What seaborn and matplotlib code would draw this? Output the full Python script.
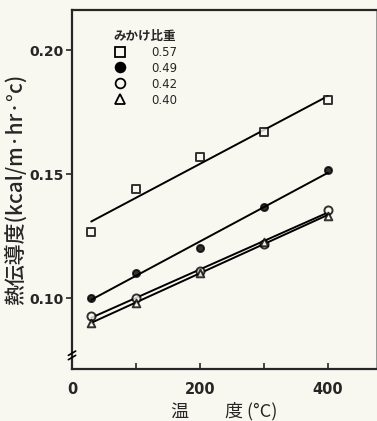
import matplotlib
matplotlib.use('Agg')
import matplotlib.pyplot as plt
from matplotlib.lines import Line2D
import seaborn as sns
import numpy as np
import pandas as pd

# data
temps = [30, 100, 200, 300, 400]
k_057 = [0.1266, 0.1440, 0.1570, 0.1670, 0.1800]
k_049 = [0.1000, 0.1100, 0.1200, 0.1367, 0.1516]
k_042 = [0.0927, 0.1000, 0.1110, 0.1220, 0.1355]
k_040 = [0.0900, 0.0980, 0.1100, 0.1226, 0.1330]
densities = ['0.57', '0.49', '0.42', '0.40']

paper = '#f9f8f0'

sns.set_style('ticks')
plt.rcParams['font.family'] = ['DejaVu Sans', 'Noto Sans CJK JP']
plt.rcParams['figure.facecolor'] = paper
plt.rcParams['axes.facecolor'] = paper

fig = plt.figure(figsize=(3.77, 4.21), dpi=100)
ax = fig.add_axes([0.191, 0.1235, 0.806, 0.8525])

series = [k_057, k_049, k_042, k_040]
styles = [('s', paper, 40), ('o', 'black', 26), ('o', paper, 34), ('^', paper, 30)]

for vals, (mk, fc, sz) in zip(series, styles):
    df = pd.DataFrame({'T': temps, 'k': vals})
    sns.regplot(data=df, x='T', y='k', ax=ax, ci=None, marker=mk, color='black',
                scatter_kws={'facecolor': fc, 'edgecolor': 'black', 's': sz,
                             'linewidths': 1.4, 'zorder': 3},
                line_kws={'linewidth': 1.4, 'zorder': 2})

ax.set_xlim(0, 475)
ax.set_ylim(0.0714, 0.2161)
ax.set_xticks([0, 200, 400])
ax.set_xticks([100, 300], minor=True)
ax.set_xticklabels(['0', '200', '400'], fontsize=10.5, fontweight='bold')
ax.set_yticks([0.10, 0.15, 0.20])
ax.set_yticklabels(['0.10', '0.15', '0.20'], fontsize=10, fontweight='bold')
ax.tick_params(axis='x', which='both', direction='in', length=4, width=1.2, pad=9)
ax.tick_params(axis='y', direction='out', length=4, width=1.2, pad=2)
for sp in ax.spines.values():
    sp.set_linewidth(1.6)
ax.spines['right'].set_linewidth(0.6)
ax.spines['right'].set_color('#888888')

ax.set_xlabel('温　　度 (°C)', fontsize=13, family=['Noto Sans CJK JP', 'DejaVu Sans'],
              labelpad=4)
ax.set_ylabel('熱伝導度(kcal/m·hr·°c)', fontsize=15, fontweight='medium',
              family=['Noto Sans CJK JP', 'DejaVu Sans'], labelpad=2)

# axis break mark on the y axis
for dy in (0.032, 0.044):
    ax.plot([-0.012, 0.012], [dy - 0.006, dy + 0.006], transform=ax.transAxes,
            color='black', lw=1.2, clip_on=False, zorder=5)

handles = [Line2D([], [], linestyle='none', marker=mk, markersize=7,
                  markerfacecolor=fc, markeredgecolor='black', markeredgewidth=1.3)
           for mk, fc, sz in styles]
leg = ax.legend(handles, densities, title='みかけ比重', loc='upper left',
                bbox_to_anchor=(0.1, 0.975), frameon=False, handlelength=1.2,
                handletextpad=2.0, labelspacing=0.25, fontsize=8.5,
                title_fontproperties={'family': ['Noto Sans CJK JP', 'DejaVu Sans'],
                                      'size': 9, 'weight': 'bold'})
leg._legend_box.align = 'left'

plt.savefig('out.png', dpi=100, facecolor=paper)
